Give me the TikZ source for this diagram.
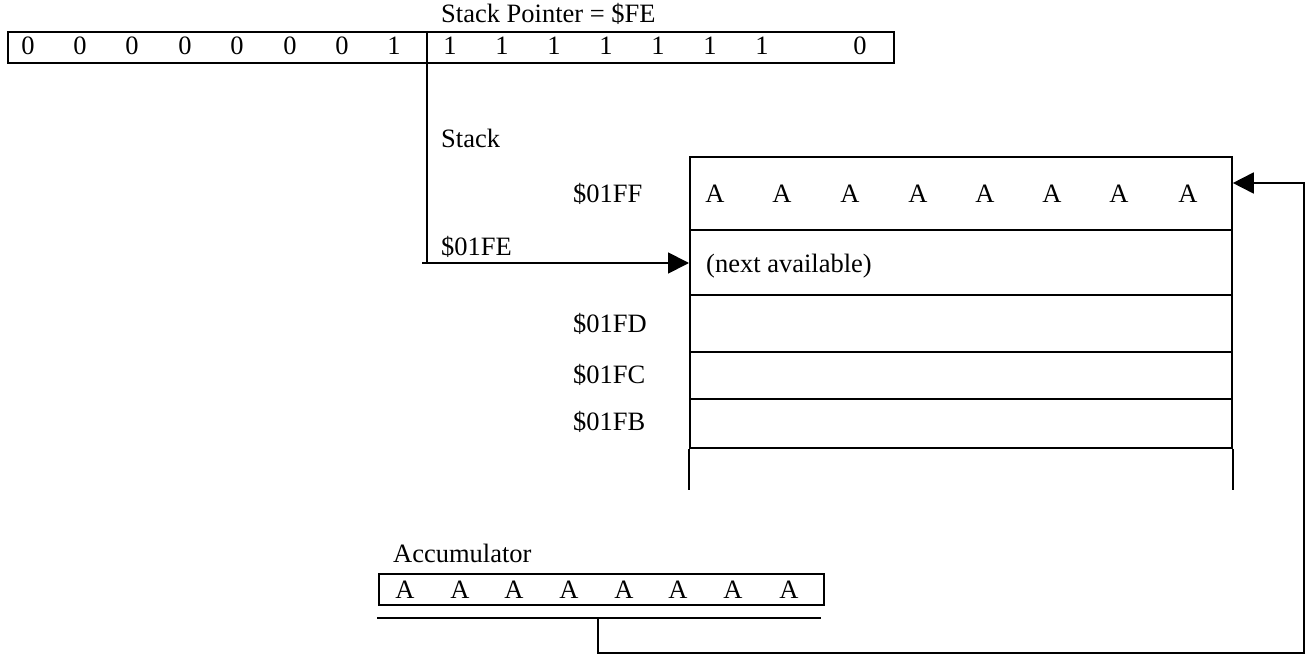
\documentclass[tikz,border=0pt]{standalone}
\usepackage{fontspec}
\setmainfont{Liberation Serif}
\usetikzlibrary{arrows.meta}
\begin{document}
\begin{tikzpicture}[x=1pt,y=-1pt,
  txt/.style={inner sep=0pt, font=\fontsize{26.5}{30}\selectfont},
  lbl/.style={txt, anchor=base west},
  bit/.style={txt, anchor=base},
  ln/.style={line width=1.8pt},
  cell/.style={draw, ln, inner sep=0pt, anchor=north west},
  tip/.style={-{Triangle[length=21pt,width=21pt]}}]
\useasboundingbox (0,0) rectangle (1308,655);

% Stack pointer register
\node[lbl] (splbl) at (441,23) {Stack Pointer = \$FE};
\node[cell, minimum width=886pt, minimum height=31pt] (spreg) at (7,31) {};
\foreach \x/\b [count=\i] in {28/0,80/0,132/0,185/0,237/0,290/0,342/0,394/1}{
  \node[bit] (hb\i) at (\x,55) {\b};
}
\foreach \x/\b [count=\i] in {450/1,502/1,554/1,606/1,658/1,710/1,762/1,860/0}{
  \node[bit] (lb\i) at (\x,55) {\b};
}
\coordinate (spdiv) at (427,31);
\coordinate (corner) at (427,263);
\coordinate (tail) at (422,263);

% Stack
\node[lbl] (stacklbl) at (441,148) {Stack};
\node[cell, minimum width=542pt, minimum height=73pt] (rowFF) at (689,156) {};
\node[cell, minimum width=542pt, minimum height=65pt] (rowFE) at (689,229) {};
\node[cell, minimum width=542pt, minimum height=57pt] (rowFD) at (689,294) {};
\node[cell, minimum width=542pt, minimum height=47pt] (rowFC) at (689,351) {};
\node[cell, minimum width=542pt, minimum height=49pt] (rowFB) at (689,398) {};
\draw[ln] (rowFB.south west) -- ++(0,41);
\draw[ln] (rowFB.south east) -- ++(0,41);

\node[lbl] (aFF) at (573,202) {\$01FF};
\node[lbl] (aFE) at (441,255) {\$01FE};
\node[lbl] (aFD) at (573,332) {\$01FD};
\node[lbl] (aFC) at (573,383) {\$01FC};
\node[lbl] (aFB) at (573,430) {\$01FB};

\foreach \x [count=\i] in {715,782,850,918,985,1052,1119,1188}{
  \node[bit] (sa\i) at (\x,202) {A};
}
\node[lbl] (nextav) at (706,272) {(next available)};

% pointer connector
\draw[ln] (spdiv) -- (corner);
\draw[ln, tip] (tail) -- (rowFE.west |- tail);

% Accumulator
\node[lbl] (acclbl) at (393,562) {Accumulator};
\node[cell, minimum width=445pt, minimum height=31pt] (acc) at (378,573) {};
\foreach \x [count=\i] in {405,460,514,569,624,678,733,789}{
  \node[bit] (aa\i) at (\x,598) {A};
}
\coordinate (busl) at (377,618);
\coordinate (busr) at (821,618);
\coordinate (tap) at (598,618);
\coordinate (bot) at (1304,653);
\coordinate (rt) at (1304,183);
\draw[ln] (busl) -- (busr);
\draw[ln, tip] (tap) -- (tap |- bot) -- (bot) -- (rt) -- (rowFF.east |- rt);
\end{tikzpicture}
\end{document}
